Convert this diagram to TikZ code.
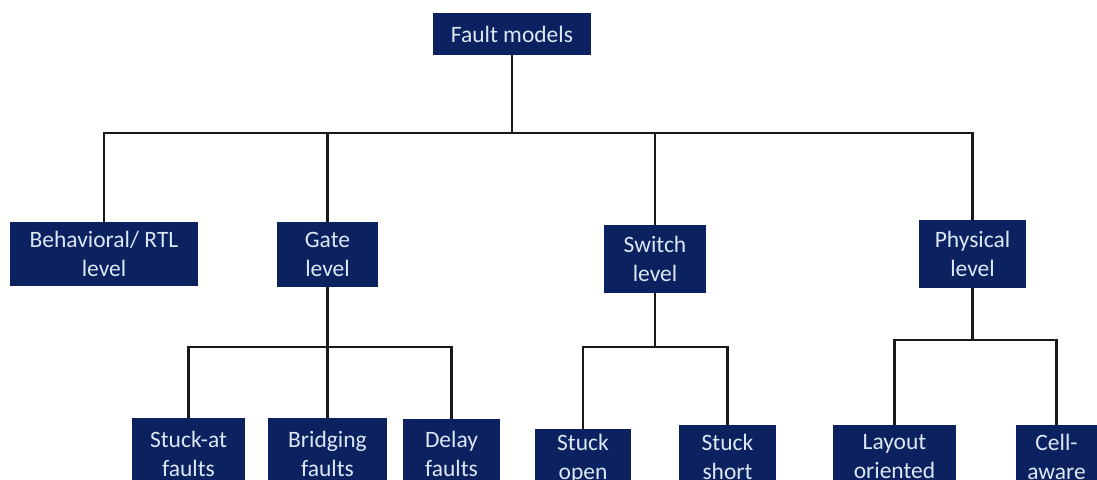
\documentclass[tikz,border=0pt]{standalone}
\usepackage{fontspec}
\setmainfont{Carlito}
\definecolor{navy}{HTML}{0B2160}
\definecolor{boxtext}{HTML}{DCE7F4}
\begin{document}
\begin{tikzpicture}[x=1pt,y=-1pt,
  box/.style={rectangle, fill=navy, draw=none, text=boxtext, align=center,
    inner sep=0pt, font=\fontsize{23.5}{29}\selectfont},
  conn/.style={draw=black!90, line width=2.3pt}]
\useasboundingbox (0,0) rectangle (1097,479);
\begin{scope}
\clip (0,0) rectangle (1097,479);
\node[box, minimum width=158pt, minimum height=42pt] (fm) at (512,34) {Fault models};
\node[box, minimum width=188pt, minimum height=64pt] (beh) at (104,254) {Behavioral/ RTL\\level};
\node[box, minimum width=101pt, minimum height=65pt] (gate) at (327.5,254.5) {Gate\\level};
\node[box, minimum width=102pt, minimum height=68pt] (sw) at (655,259) {Switch\\level};
\node[box, minimum width=107pt, minimum height=68pt] (phys) at (972.5,254) {Physical\\level};
\node[box, minimum width=113pt, minimum height=72pt] (sa) at (188.5,454) {Stuck-at\\faults};
\node[box, minimum width=119pt, minimum height=72pt] (br) at (327.5,454) {Bridging\\faults};
\node[box, minimum width=97pt, minimum height=70pt] (dl) at (451.5,454) {Delay\\faults};
\node[box, minimum width=96pt, minimum height=60pt] (so) at (583,459) {Stuck\\open};
\node[box, minimum width=97pt, minimum height=64pt] (ss) at (727.5,457) {Stuck\\short};
\node[box, minimum width=123pt, minimum height=64pt] (lo) at (894.5,457) {Layout\\oriented};
\node[box, minimum width=81pt, minimum height=64pt] (ca) at (1056.5,457) {Cell-\\aware};
\end{scope}
\coordinate (bar) at (0,133);
\coordinate (gbar) at (0,347);
\coordinate (sbar) at (0,347);
\coordinate (pbar) at (0,340);
% top level
\draw[conn] (fm.south) -- (fm.south |- bar);
\draw[conn] (beh.north) -- (beh.north |- bar) -- (phys.north |- bar) -- (phys.north);
\draw[conn] (gate.north) -- (gate.north |- bar);
\draw[conn] (sw.north) -- (sw.north |- bar);
% gate children
\draw[conn] (gate.south) -- (gate.south |- gbar);
\draw[conn] (sa.north) -- (sa.north |- gbar) -- (dl.north |- gbar) -- (dl.north);
\draw[conn] (br.north) -- (br.north |- gbar);
% switch children
\draw[conn] (sw.south) -- (sw.south |- sbar);
\draw[conn] (so.north) -- (so.north |- sbar) -- (ss.north |- sbar) -- (ss.north);
% physical children
\draw[conn] (phys.south) -- (phys.south |- pbar);
\draw[conn] (lo.north) -- (lo.north |- pbar) -- (ca.north |- pbar) -- (ca.north);
\end{tikzpicture}
\end{document}
